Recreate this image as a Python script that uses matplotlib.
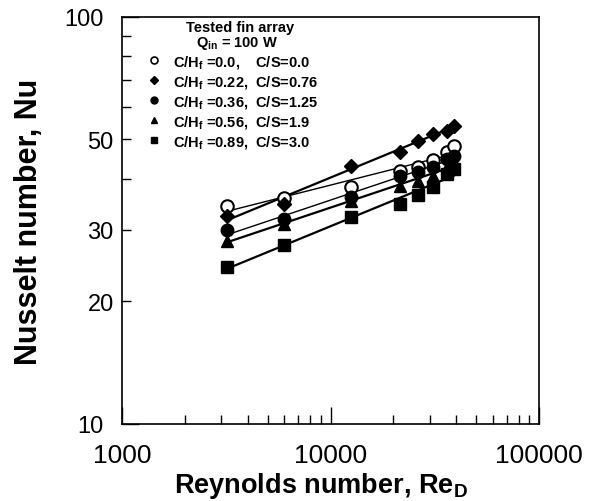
import matplotlib
matplotlib.use("Agg")
import matplotlib.pyplot as plt
from matplotlib.ticker import FixedLocator, NullFormatter, FixedFormatter
import numpy as np

plt.rcParams['font.family'] = ['Liberation Sans', 'DejaVu Sans']
plt.rcParams['mathtext.fontset'] = 'custom'
plt.rcParams['mathtext.rm'] = 'Liberation Sans:bold'
plt.rcParams['mathtext.bf'] = 'Liberation Sans:bold'
plt.rcParams['mathtext.it'] = 'Liberation Sans:bold'

# Reynolds numbers (same for every fin array)
re = [3200, 6000, 12500, 21500, 26300, 31000, 36000, 39000]

# Nusselt numbers
nu_ch000 = [34.4, 35.9, 38.2, 41.9, 42.7, 44.4, 46.5, 48.3]
nu_ch022 = [32.5, 34.7, 43.1, 46.5, 49.7, 51.6, 52.6, 54.1]
nu_ch036 = [29.9, 31.9, 36.1, 40.7, 41.5, 42.7, 44.8, 45.6]
nu_ch056 = [28.2, 31.0, 35.4, 38.5, 39.6, 40.7, 42.7, 44.0]
nu_ch089 = [24.3, 27.6, 32.2, 34.7, 36.5, 38.2, 41.1, 42.3]

labels = [r'C/H$_\mathbf{f}$ =0.0,    C/S=0.0',
          r'C/H$_\mathbf{f}$ =0.22,  C/S=0.76',
          r'C/H$_\mathbf{f}$ =0.36,  C/S=1.25',
          r'C/H$_\mathbf{f}$ =0.56,  C/S=1.9',
          r'C/H$_\mathbf{f}$ =0.89,  C/S=3.0']

series = [nu_ch000, nu_ch022, nu_ch036, nu_ch056, nu_ch089]
styles = [
    dict(marker='o', mfc='white', mec='black', mew=1.5, ms=9, lw=1.0),
    dict(marker='D', mfc='black', mec='black', ms=7, lw=1.6),
    dict(marker='o', mfc='black', mec='black', ms=9, lw=1.0),
    dict(marker='^', mfc='black', mec='black', ms=9, lw=1.6),
    dict(marker='s', mfc='black', mec='black', ms=8.5, lw=1.6),
]

fig = plt.figure(figsize=(5.96, 5.02), dpi=100)
ax = fig.add_axes([0.2047, 0.1534, 0.6997, 0.8108])

x = np.array(re, dtype=float)
handles = []
for nu, st in zip(series, styles):
    y = np.array(nu, dtype=float)
    # power-law fit line
    k, b = np.polyfit(np.log10(x), np.log10(y), 1)
    xf = np.array([x.min(), x.max()])
    ax.plot(xf, 10 ** (k * np.log10(xf) + b), color='black', lw=st['lw'], zorder=2)
    ax.plot(x, y, linestyle='none', marker=st['marker'], mfc=st['mfc'],
            mec=st['mec'], ms=st['ms'], mew=st.get('mew', 1.0), zorder=3)
    h, = ax.plot([], [], linestyle='none', marker=st['marker'], mfc=st['mfc'],
                 mec=st['mec'], ms=5 if st['marker'] != 'D' else 4.5,
                 mew=1.2 if st['mfc'] == 'white' else 1.0)
    handles.append(h)

ax.set_xscale('log')
ax.set_yscale('log')
ax.set_xlim(1000, 100000)
ax.set_ylim(10, 100)

ax.xaxis.set_major_locator(FixedLocator([1000, 10000, 100000]))
ax.xaxis.set_major_formatter(FixedFormatter(['1000', '10000', '100000']))
ax.xaxis.set_minor_locator(FixedLocator([m * d for d in (1000, 10000) for m in range(2, 10)]))
ax.xaxis.set_minor_formatter(NullFormatter())

# 10 and 100 are major ticks; 20, 30, 50 are labelled minor ticks
y_major = [10, 100]
y_minor = [20, 30, 40, 50, 60, 70, 80, 90]
y_minor_lab = ['20', '30', '', '50', '', '', '', '']
ax.yaxis.set_major_locator(FixedLocator(y_major))
ax.yaxis.set_major_formatter(FixedFormatter([str(v) for v in y_major]))
ax.yaxis.set_minor_locator(FixedLocator(y_minor))
ax.yaxis.set_minor_formatter(FixedFormatter(y_minor_lab))

ax.tick_params(which='both', direction='in', width=1.0)
ax.tick_params(axis='x', which='major', length=12, labelsize=19, pad=14)
ax.tick_params(axis='x', which='minor', length=6.5)
ax.tick_params(axis='y', which='major', length=12, labelsize=17, pad=13)
ax.tick_params(axis='y', which='minor', length=6.5, labelsize=17, pad=6)
for sp in ax.spines.values():
    sp.set_linewidth(1.2)

ax.set_xlabel(r'Reynolds number, Re$_\mathbf{D}$', fontsize=19.5, fontweight='bold', labelpad=0)
ax.set_ylabel('Nusselt number, Nu', fontsize=22, fontweight='bold', labelpad=0)
ax.xaxis.set_label_coords(0.476, -0.112)
ax.yaxis.set_label_coords(-0.186, 0.5)


def axpos(px, py):
    return (px - 122) / 417.0, (425 - py) / 407.0


tx, ty = axpos(240, 28)
ax.text(tx, ty, 'Tested fin array', transform=ax.transAxes, ha='center', va='center',
        fontsize=10.5, fontweight='bold')
tx, ty = axpos(237, 44)
ax.text(tx, ty, r'Q$_\mathbf{in}$ = 100 W', transform=ax.transAxes, ha='center', va='center',
        fontsize=10.5, fontweight='bold')

lx, ly = axpos(146.5, 54)
leg = ax.legend(handles, labels, loc='upper left', bbox_to_anchor=(lx, ly),
                frameon=False, prop=dict(size=10.5, weight='bold'),
                handlelength=1.0, handletextpad=0.85, labelspacing=0.2,
                borderaxespad=0, borderpad=0)

fig.savefig('out.png', dpi=100)
